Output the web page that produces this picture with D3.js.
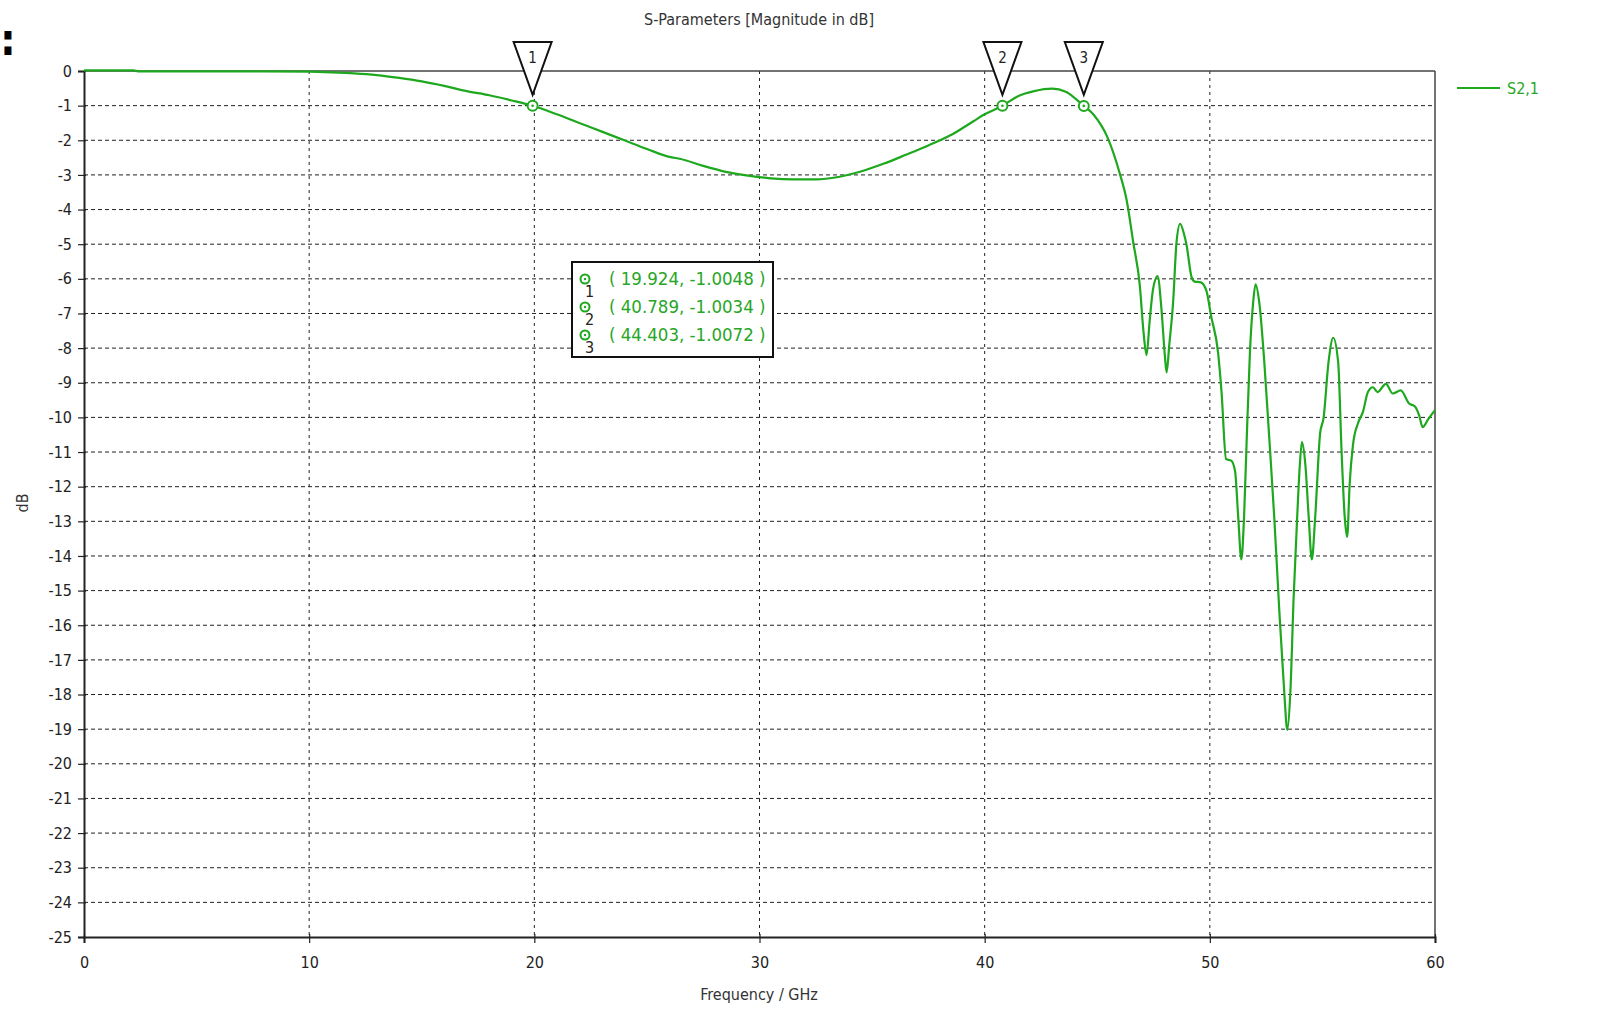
<!DOCTYPE html>
<html>
<head>
<meta charset="utf-8">
<script src="https://cdn.jsdelivr.net/npm/d3@7"></script>
<style>
  html, body { margin: 0; padding: 0; background: #fff; }
  svg { display: block; }
  text { font-family: "DejaVu Sans Condensed", "DejaVu Sans", sans-serif; }
</style>
</head>
<body>
<svg id="chart" width="1597" height="1029"></svg>
<script>
// ---------------- data ----------------
const chartTitle = "S-Parameters [Magnitude in dB]";
const xLabel = "Frequency / GHz";
const yLabel = "dB";
const seriesName = "S2,1";

const xTicks = [0, 10, 20, 30, 40, 50, 60];
const yTicks = d3.range(0, -26, -1);

const freq = [
  0, 1, 2.2, 2.4, 5, 8, 10, 11, 12, 13, 14, 15, 16, 17, 18, 19, 19.924,
  21, 22, 23, 24, 25, 26, 26.5, 27.5, 28.5, 29.5, 30.5, 31.5, 32.5, 33.5,
  34.5, 35.5, 36.5, 37.5, 38.5, 39.5, 40.0, 40.789, 41.5, 42.2, 43.0, 43.6,
  44.0, 44.403, 44.85, 45.45, 46.0, 46.3, 46.6, 46.89, 47.05, 47.19, 47.33,
  47.48, 47.68, 47.85, 48.0, 48.08, 48.2, 48.37, 48.52, 48.68, 48.85, 48.96,
  49.19, 49.33, 49.6, 49.85, 50.05, 50.37, 50.52, 50.72, 50.95, 51.12, 51.26,
  51.4, 51.52, 51.63, 51.78, 51.92, 52.03, 52.2, 52.42, 52.63, 52.86, 53.08,
  53.3, 53.44, 53.58, 53.72, 53.88, 53.99, 54.09, 54.24, 54.39, 54.53, 54.68,
  54.9, 55.05, 55.27, 55.48, 55.7, 55.85, 55.99, 56.1, 56.21, 56.36, 56.58,
  56.8, 57.02, 57.24, 57.45, 57.82, 58.12, 58.48, 58.85, 59.1, 59.3, 59.45,
  59.7, 60
];
const s21 = [
  0.02, 0.02, 0.02, -0.01, -0.01, -0.01, -0.02, -0.04, -0.07, -0.12, -0.2, -0.3, -0.43, -0.58, -0.7, -0.85, -1.0048,
  -1.25, -1.5, -1.75, -2.0, -2.25, -2.48, -2.54, -2.74, -2.91, -3.02, -3.1, -3.13, -3.13, -3.06,
  -2.9, -2.68, -2.42, -2.15, -1.85, -1.45, -1.25, -1.0034, -0.72, -0.58, -0.51, -0.6,
  -0.78, -1.0072, -1.27, -1.91, -2.96, -3.71, -4.95, -6.19, -7.5, -8.2, -7.2,
  -6.29, -5.92, -6.86, -8.2, -8.7, -7.9, -6.67, -4.95, -4.41, -4.7, -5.0,
  -5.95, -6.08, -6.1, -6.35, -7.05, -8.15, -9.27, -11.2, -11.25, -11.55, -12.87,
  -14.1, -12.87, -10.78, -8.13, -6.71, -6.16, -6.71, -8.41, -10.5, -12.87, -15.52,
  -17.88, -19.02, -17.88, -15.23, -12.87, -11.44, -10.71, -11.35, -12.87, -14.1, -12.87,
  -10.45, -10.02, -8.41, -7.70, -8.41, -10.97, -12.87, -13.45, -11.92, -10.78, -10.17,
  -9.84, -9.27, -9.13, -9.27, -9.03, -9.31, -9.22, -9.6, -9.68, -9.95, -10.28,
  -10.05, -9.79
];

const markerIds = ["1", "2", "3"];
const markerFreq = [19.924, 40.789, 44.403];
const markerVal = [-1.0048, -1.0034, -1.0072];
const markerText = ["( 19.924, -1.0048 )", "( 40.789, -1.0034 )", "( 44.403, -1.0072 )"];

// ---------------- layout ----------------
const green = "#1ea81e";
const textGreen = "#27a627";
const margin = { left: 84, top: 71, right: 1597 - 1435, bottom: 1029 - 937 };
const W = 1597, H = 1029;
const pw = W - margin.left - margin.right;
const ph = H - margin.top - margin.bottom;

const svg = d3.select("#chart");
const x = d3.scaleLinear().domain([0, 60]).range([margin.left, margin.left + pw]);
const y = d3.scaleLinear().domain([-25, 0]).range([margin.top + ph, margin.top]);
const fmt = d => String(d);

// top-left colon artifact
svg.append("text").attr("x", 0).attr("y", 55).attr("font-size", 44).attr("font-weight", "bold")
  .attr("font-family", '"Noto Sans", sans-serif').attr("fill", "#000").text(":");

// title
svg.append("text").attr("x", 759).attr("y", 25).attr("text-anchor", "middle")
  .attr("font-size", 16).attr("fill", "#333").text(chartTitle);

// grid
const grid = svg.append("g");
grid.selectAll("line.h").data(yTicks.filter(d => d !== 0 && d !== -25)).join("line")
  .attr("x1", x(0)).attr("x2", x(60)).attr("y1", d => y(d)).attr("y2", d => y(d))
  .attr("stroke", "#222").attr("stroke-width", 1).attr("stroke-dasharray", "4,3");
grid.selectAll("line.v").data(xTicks.filter(d => d !== 0 && d !== 60)).join("line")
  .attr("x1", d => x(d)).attr("x2", d => x(d)).attr("y1", y(0)).attr("y2", y(-25))
  .attr("stroke", "#222").attr("stroke-width", 1).attr("stroke-dasharray", "3,4");

// frame (top/right)
svg.append("line").attr("x1", x(0)).attr("x2", x(60)).attr("y1", y(0)).attr("y2", y(0))
  .attr("stroke", "#444").attr("stroke-width", 1.5);
svg.append("line").attr("x1", x(60)).attr("x2", x(60)).attr("y1", y(0)).attr("y2", y(-25))
  .attr("stroke", "#444").attr("stroke-width", 1.5);

// axes
const yAxis = d3.axisLeft(y).tickValues(yTicks).tickFormat(fmt).tickSize(6).tickPadding(6);
const gy = svg.append("g").attr("transform", `translate(${x(0)},0)`).call(yAxis);
const xAxis = d3.axisBottom(x).tickValues(xTicks).tickFormat(fmt).tickSize(6).tickPadding(14);
const gx = svg.append("g").attr("transform", `translate(0,${y(-25)})`).call(xAxis);
[gx, gy].forEach(g => {
  g.select(".domain").attr("stroke", "#222").attr("stroke-width", 2);
  g.selectAll(".tick line").attr("stroke", "#222").attr("stroke-width", 1.2);
  g.selectAll(".tick text").attr("font-size", 16).attr("fill", "#222")
    .attr("font-family", '"DejaVu Sans Condensed", "DejaVu Sans", sans-serif');
});
gy.selectAll(".tick line").attr("x1", 2);
gx.selectAll(".tick line").attr("y1", -3);

// axis titles
svg.append("text").attr("x", 759).attr("y", 1000).attr("text-anchor", "middle")
  .attr("font-size", 16).attr("fill", "#333").text(xLabel);
svg.append("text").attr("transform", "translate(28,503) rotate(-90)").attr("text-anchor", "middle")
  .attr("font-size", 16).attr("fill", "#333").text(yLabel);

// curve
const pts = freq.map((f, i) => [f, s21[i]]);
const line = d3.line().x(d => x(d[0])).y(d => y(d[1])).curve(d3.curveMonotoneX);
svg.append("path").datum(pts).attr("d", line).attr("fill", "none")
  .attr("stroke", green).attr("stroke-width", 2.2).attr("stroke-linejoin", "round");

// markers
const mk = svg.append("g").selectAll("g").data(markerIds).join("g");
mk.append("path")
  .attr("d", (d, i) => {
    const cx = x(markerFreq[i]);
    const top = y(0) - 29, apex = y(markerVal[i]) - 11;
    return `M${cx - 19},${top} L${cx + 19},${top} L${cx},${apex} Z`;
  })
  .attr("fill", "#fff").attr("stroke", "#111").attr("stroke-width", 2).attr("stroke-linejoin", "miter");
mk.append("text").attr("x", (d, i) => x(markerFreq[i])).attr("y", y(0) - 8)
  .attr("text-anchor", "middle").attr("font-size", 15).attr("fill", "#222").text(d => d);
mk.append("circle").attr("cx", (d, i) => x(markerFreq[i])).attr("cy", (d, i) => y(markerVal[i]))
  .attr("r", 5).attr("fill", "#fff").attr("stroke", green).attr("stroke-width", 2);
mk.append("circle").attr("cx", (d, i) => x(markerFreq[i])).attr("cy", (d, i) => y(markerVal[i]))
  .attr("r", 1.3).attr("fill", green);

// marker info box
const bx = 572, by = 262, bw = 201, bh = 95;
const box = svg.append("g");
box.append("rect").attr("x", bx).attr("y", by).attr("width", bw).attr("height", bh)
  .attr("fill", "#fff").attr("stroke", "#111").attr("stroke-width", 2);
markerIds.forEach((id, i) => {
  const cy = by + 17 + i * 28;
  box.append("circle").attr("cx", bx + 13).attr("cy", cy).attr("r", 4.5)
    .attr("fill", "#fff").attr("stroke", green).attr("stroke-width", 2);
  box.append("circle").attr("cx", bx + 13).attr("cy", cy).attr("r", 1.2).attr("fill", green);
  box.append("text").attr("x", bx + 13).attr("y", cy + 18).attr("font-size", 16)
    .attr("fill", "#222").text(id);
  box.append("text").attr("x", bx + 37).attr("y", cy + 6).attr("font-size", 18.5)
    .attr("fill", textGreen).text(markerText[i]);
});

// legend
svg.append("line").attr("x1", 1457).attr("x2", 1500).attr("y1", 88).attr("y2", 88)
  .attr("stroke", green).attr("stroke-width", 2.2);
svg.append("text").attr("x", 1507).attr("y", 94).attr("font-size", 16)
  .attr("fill", textGreen).text(seriesName);
</script>
</body>
</html>
